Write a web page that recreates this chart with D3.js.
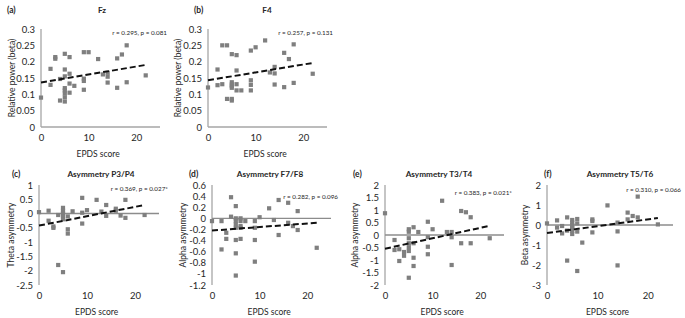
<!DOCTYPE html>
<html>
<head>
<meta charset="utf-8">
<script src="https://cdn.jsdelivr.net/npm/d3@7"></script>
<style>
  html, body { margin: 0; padding: 0; background: #fff; }
  svg { display: block; }
  text { font-family: Lato, "Open Sans", sans-serif; fill: #262626; }
</style>
</head>
<body>
<svg id="chart" width="685" height="318"></svg>
<script>
// ---------------- DATA ----------------
const epdsTicks = [0, 10, 20];
const xDomain = [0, 25];

const fzX = [0,2,2,3,3,4,4,5,5,5,5,5,5,5,5,6,6,6,6,7,9,9,9,9,10,12,13,14,14,14,16,16,17,18,18,22];
const fzY = [0.09,0.178,0.129,0.214,0.209,0.081,0.147,0.224,0.176,0.155,0.119,0.112,0.103,0.091,0.078,0.214,0.163,0.133,0.105,0.126,0.229,0.148,0.141,0.114,0.229,0.208,0.161,0.166,0.154,0.136,0.21,0.12,0.222,0.25,0.137,0.158];
const fzTrend = [0.136, 0.19];

const f4X = [0,2,2,3,3,4,4,5,5,5,5,5,5,5,6,6,6,6,7,9,9,9,9,10,12,13,14,14,14,16,16,17,18,18,22];
const f4Y = [0.121,0.176,0.128,0.25,0.131,0.25,0.086,0.223,0.137,0.13,0.125,0.12,0.086,0.081,0.22,0.173,0.131,0.112,0.112,0.234,0.143,0.129,0.112,0.244,0.265,0.167,0.184,0.164,0.13,0.227,0.122,0.208,0.253,0.135,0.163];
const f4Trend = [0.143, 0.196];

const p3p4X = [0,2,2,3,3,4,4,5,5,5,5,5,5,6,6,6,7,9,9,9,10,12,13,14,14,16,16,17,18,18,22];
const p3p4Y = [0.05,0.1,-0.25,-0.5,-0.45,-1.8,-0.05,0.2,0.1,0,-0.1,-0.2,-2.05,-0.55,-0.7,-0.1,0.08,0.55,0.03,-0.35,0.12,0.48,0.07,0.3,-0.08,0.17,0.1,-0.07,0.48,-0.15,-0.05];
const p3p4Trend = [-0.42, 0.3];

const f7f8X = [0,2,2,3,3,4,4,5,5,5,5,5,5,5,5,6,6,6,6,6,7,9,9,9,9,10,12,13,14,14,16,16,17,18,18,22];
const f7f8Y = [-0.05,-0.05,-0.56,-0.26,-0.37,0.38,0.03,0.22,0,-0.05,-0.11,-0.17,-0.39,-0.63,-1.03,0,-0.05,-0.14,-0.17,-0.37,-0.05,-0.05,-0.17,-0.39,-0.78,0.02,0.18,-0.03,0.33,-0.3,0.28,-0.08,-0.14,0.13,-0.21,-0.53];
const f7f8Trend = [-0.22, -0.08];

const t3t4X = [0,2,2,3,3,4,4,5,5,5,5,5,5,5,6,6,6,6,7,9,9,9,9,10,12,13,14,14,14,16,16,17,18,18,22];
const t3t4Y = [0.87,-0.2,-0.6,-0.57,-1.04,-0.68,-0.83,0.23,0.13,-0.13,-0.33,-0.49,-0.64,-1.71,0.31,-0.33,-0.91,-1.24,0.12,0.53,-0.09,-0.47,-0.77,0.23,1.37,0.12,0.12,-0.09,-1.2,0.96,-0.33,0.91,0.71,-0.33,-0.13];
const t3t4Trend = [-0.55, 0.37];

const t5t6X = [0,2,2,3,3,4,4,4,5,5,5,5,5,5,5,6,6,6,6,7,9,9,9,12,14,14,14,16,16,17,18,18,22];
const t5t6Y = [0.08,0.23,-0.13,-0.05,-0.42,0.38,-0.28,-1.78,0.25,0.12,0,-0.1,-0.2,-0.3,-0.45,0.3,0.08,-0.33,-2.3,-0.88,0.28,0.2,-0.37,0.98,0.12,-0.32,-2.02,0.62,0.28,0.45,1.42,0.38,0.03];
const t5t6Trend = [-0.4, 0.35];

const trendX = [0, 22];

const powerTicks = [0, 0.05, 0.1, 0.15, 0.2, 0.25, 0.3];
const p3p4Ticks = [-2.5, -2, -1.5, -1, -0.5, 0, 0.5, 1];
const f7f8Ticks = [-1.2, -1, -0.8, -0.6, -0.4, -0.2, 0, 0.2, 0.4, 0.6];
const t3t4Ticks = [-2, -1.5, -1, -0.5, 0, 0.5, 1, 1.5, 2];
const t5t6Ticks = [-3, -2, -1, 0, 1, 2];

const panelLabels = ["(a)", "(b)", "(c)", "(d)", "(e)", "(f)"];
const panelTitles = ["Fz", "F4", "Asymmetry P3/P4", "Asymmetry F7/F8", "Asymmetry T3/T4", "Asymmetry T5/T6"];
const yTitles = ["Relative power (beta)", "Relative power (beta)", "Theta asymmetry", "Alpha asymmetry", "Alpha asymmetry", "Beta asymmetry"];
const stats = ["r = 0.295, p = 0.081", "r = 0.257, p = 0.131", "r = 0.369, p = 0.027*", "r = 0.282, p = 0.096", "r = 0.383, p = 0.021*", "r = 0.310, p = 0.066"];
const xTitle = "EPDS score";

const series = [
  { x: fzX, y: fzY, trend: fzTrend, ticks: powerTicks },
  { x: f4X, y: f4Y, trend: f4Trend, ticks: powerTicks },
  { x: p3p4X, y: p3p4Y, trend: p3p4Trend, ticks: p3p4Ticks },
  { x: f7f8X, y: f7f8Y, trend: f7f8Trend, ticks: f7f8Ticks },
  { x: t3t4X, y: t3t4Y, trend: t3t4Trend, ticks: t3t4Ticks },
  { x: t5t6X, y: t5t6Y, trend: t5t6Trend, ticks: t5t6Ticks }
];

// ---------------- LAYOUT ----------------
const layout = [
  { left: 41,  right: 160, top: 29,  bottom: 127, labelX: 7,   titleX: 102, titleY: 13,  statX: 167, statY: 35,  yTitleX: 12,  row: 0 },
  { left: 208, right: 327, top: 29,  bottom: 127, labelX: 194, titleX: 267, titleY: 13,  statX: 333, statY: 35,  yTitleX: 178, row: 0 },
  { left: 39,  right: 159, top: 185, bottom: 285, labelX: 12,  titleX: 101, titleY: 177, statX: 168, statY: 191, yTitleX: 11,  row: 1 },
  { left: 212, right: 331, top: 185, bottom: 285, labelX: 189, titleX: 270, titleY: 177, statX: 338, statY: 199, yTitleX: 183, row: 1 },
  { left: 385, right: 504, top: 185, bottom: 285, labelX: 353, titleX: 439, titleY: 177, statX: 512, statY: 195, yTitleX: 355, row: 1 },
  { left: 547, right: 673, top: 185, bottom: 285, labelX: 544, titleX: 620, titleY: 177, statX: 681, statY: 192, yTitleX: 525, row: 1 }
];

const svg = d3.select("#chart");

series.forEach((s, i) => {
  const L = layout[i];
  const g = svg.append("g");
  const xs = d3.scaleLinear().domain(xDomain).range([L.left, L.right]);
  const ys = d3.scaleLinear().domain(d3.extent(s.ticks)).range([L.bottom, L.top]);

  // vertical axis line
  g.append("line")
    .attr("x1", L.left).attr("x2", L.left)
    .attr("y1", ys(d3.max(s.ticks))).attr("y2", ys(d3.min(s.ticks)))
    .attr("stroke", "#a6a6a6").attr("stroke-width", 1.3);

  // horizontal line at zero
  g.append("line")
    .attr("x1", L.left).attr("x2", xs(xDomain[1]))
    .attr("y1", ys(0)).attr("y2", ys(0))
    .attr("stroke", L.row === 0 ? "#a6a6a6" : "#8c8c8c").attr("stroke-width", 1.4);

  // y tick labels
  const ya = g.append("g").attr("transform", `translate(${L.left},0)`)
    .call(d3.axisLeft(ys).tickValues(s.ticks).tickSize(0).tickPadding(6).tickFormat(d => String(d)));
  ya.select(".domain").remove();
  ya.selectAll("text").style("font-size", "9.5px").style("font-family", "Lato, sans-serif").attr("fill", "#262626");

  // x tick labels
  const xa = g.append("g").attr("transform", `translate(0,${L.bottom})`)
    .call(d3.axisBottom(xs).tickValues(epdsTicks).tickSize(0).tickPadding(7).tickFormat(d => String(d)));
  xa.select(".domain").remove();
  xa.selectAll("text").style("font-size", "9.5px").style("font-family", "Lato, sans-serif").attr("fill", "#262626");

  // points
  const pts = s.x.map((xv, k) => [xv, s.y[k]]);
  g.selectAll("rect.pt").data(pts).enter().append("rect")
    .attr("class", "pt")
    .attr("x", d => xs(d[0]) - 2.1).attr("y", d => ys(d[1]) - 2.1)
    .attr("width", 4.2).attr("height", 4.2)
    .attr("fill", "#7f7f7f");

  // trend line
  const line = d3.line().x(d => xs(d[0])).y(d => ys(d[1]));
  g.append("path")
    .datum(trendX.map((xv, k) => [xv, s.trend[k]]))
    .attr("d", line)
    .attr("fill", "none").attr("stroke", "#111").attr("stroke-width", 2)
    .attr("stroke-dasharray", "6,3");

  // panel label
  g.append("text").attr("x", L.labelX).attr("y", L.titleY)
    .style("font-size", "8.5px").style("font-weight", "bold").text(panelLabels[i]);
  // title
  g.append("text").attr("x", L.titleX).attr("y", L.titleY).attr("text-anchor", "middle")
    .style("font-size", "8.2px").style("font-weight", "bold").text(panelTitles[i]);
  // stats
  g.append("text").attr("x", L.statX).attr("y", L.statY).attr("text-anchor", "end")
    .style("font-size", "6.3px").text(stats[i]);
  // y title
  const cy = (L.top + L.bottom) / 2;
  g.append("text").attr("transform", `translate(${L.yTitleX + 3},${cy}) rotate(-90)`)
    .attr("text-anchor", "middle")
    .style("font-size", "8.5px").text(yTitles[i]);
  // x title
  g.append("text").attr("x", xs(12)).attr("y", L.bottom + 30).attr("text-anchor", "middle")
    .style("font-size", "8.5px").text(xTitle);
});
</script>
</body>
</html>
